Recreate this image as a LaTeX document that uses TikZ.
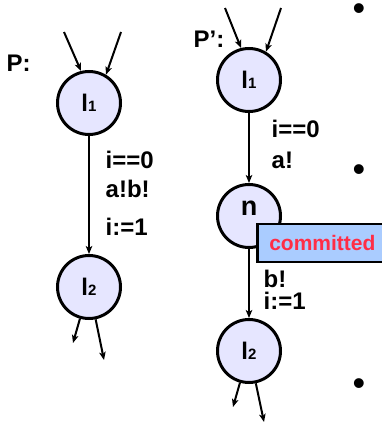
\documentclass[tikz,border=0pt]{standalone}
\usepackage{fontspec}
\setmainfont{Liberation Sans}
\usetikzlibrary{arrows.meta}
\definecolor{statefill}{RGB}{230,230,255}
\definecolor{boxfill}{RGB}{170,204,255}
\definecolor{commitred}{RGB}{255,45,70}
\newcommand\locsub[1]{{\fontsize{15}{15}\selectfont #1}}
\tikzset{
  loc/.style={circle, draw=black, line width=3pt, fill=statefill, minimum size=63pt,
    inner sep=0pt, text height=16pt, text depth=0pt,
    font=\fontsize{24}{24}\selectfont\bfseries},
  trans/.style={line width=2pt, -{Stealth[length=8pt,width=6.5pt,inset=2pt]}},
  lbl/.style={anchor=base west, inner sep=0pt, font=\fontsize{24}{24}\selectfont\bfseries},
  ttl/.style={anchor=base west, inner sep=0pt, font=\fontsize{24}{24}\selectfont\bfseries},
  commitbox/.style={rectangle, draw=black, line width=2.5pt, fill=boxfill, text=commitred,
    inner xsep=12pt, inner ysep=0pt, minimum height=38pt, anchor=west,
    font=\fontsize{21}{21}\selectfont\bfseries},
  bul/.style={anchor=base, inner sep=0pt, text height=12pt, text depth=0pt, font=\fontsize{36}{36}\selectfont}
}
\begin{document}
\begin{tikzpicture}[x=1pt,y=-1pt]
\useasboundingbox (0,0) rectangle (382,423);
% ---------- P ----------
\node[ttl] (ptitle) at (6.5,71) {P:};
\node[loc] (pl1) at (89,103) {l\locsub{1}};
\node[loc] (pl2) at (89,287) {l\locsub{2}};
\coordinate (pin1) at (64,32);
\coordinate (pin2) at (121,32);
\coordinate (pout1) at (73,343);
\coordinate (pout2) at (104,360);
\draw[trans] (pin1) -- (pl1.104);
\draw[trans] (pin2) -- (pl1.59);
\draw[trans] (pl1) -- (pl2);
\draw[trans] (pl2) -- (pout1);
\draw[trans] (pl2) -- (pout2);
\node[lbl] (pg) at (105.5,168) {i==0};
\node[lbl] (ps) at (105.5,197) {a!b!};
\node[lbl] (pa) at (105.5,235) {i:=1};
% ---------- P' ----------
\node[ttl] (qtitle) at (193.5,47) {P’:};
\node[loc] (ql1) at (249,80) {l\locsub{1}};
\node[loc, text height=0pt, text depth=2pt, font=\fontsize{27}{27}\selectfont\bfseries] (qn) at (249,216) {n};
\node[loc] (ql2) at (249,351) {l\locsub{2}};
\coordinate (qin1) at (225,8);
\coordinate (qin2) at (281,8);
\coordinate (qout1) at (233,407);
\coordinate (qout2) at (264,422);
\draw[trans] (qin1) -- (ql1.104);
\draw[trans] (qin2) -- (ql1.59);
\draw[trans] (ql1) -- (qn);
\draw[trans] (qn) -- (ql2);
\draw[trans] (ql2) -- (qout1);
\draw[trans] (ql2) -- (qout2);
\node[lbl] (qg) at (271.5,137) {i==0};
\node[lbl] (qs) at (271.5,168) {a!};
\node[lbl] (qs2) at (263.5,287) {b!};
\node[lbl] (qa) at (263.5,309) {i:=1};
\node[commitbox] (qc) at (256,243) {committed};
% ---------- bullets ----------
\node[bul] (b1) at (359,20) {•};
\node[bul] (b2) at (359,181) {•};
\node[bul] (b3) at (359,395) {•};
\end{tikzpicture}
\end{document}
